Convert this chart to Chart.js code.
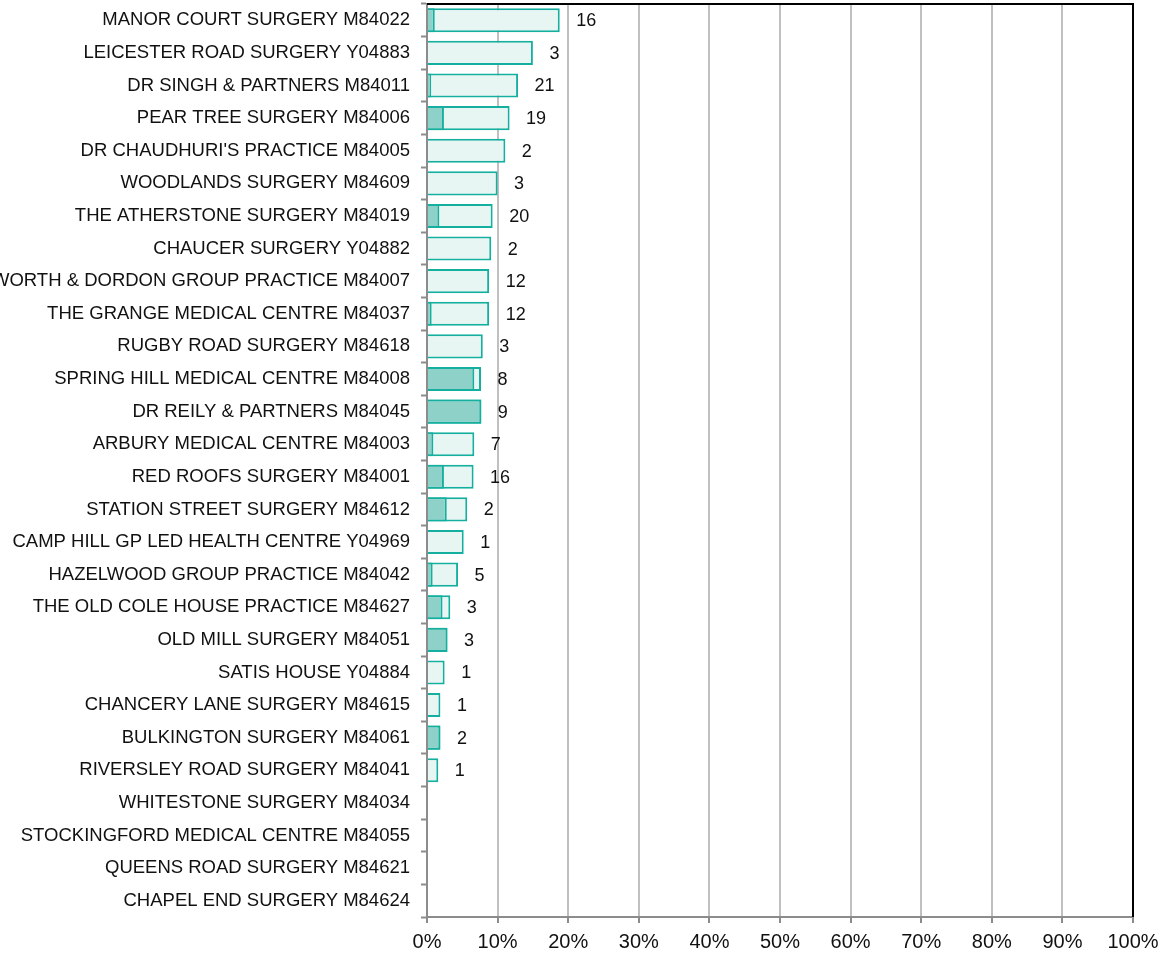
<!DOCTYPE html>
<html>
<head>
<meta charset="utf-8">
<script src="https://cdn.jsdelivr.net/npm/chart.js@4.4.1/dist/chart.umd.min.js"></script>
<style>
  html, body { margin: 0; padding: 0; background: #ffffff; }
  #wrap { width: 1159px; height: 954px; position: relative; }
</style>
</head>
<body>
<div id="wrap"><canvas id="c" width="1159" height="954"></canvas></div>
<script>
const categories = [
  "MANOR COURT SURGERY M84022",
  "LEICESTER ROAD SURGERY Y04883",
  "DR SINGH & PARTNERS M84011",
  "PEAR TREE SURGERY M84006",
  "DR CHAUDHURI'S PRACTICE M84005",
  "WOODLANDS SURGERY M84609",
  "THE ATHERSTONE SURGERY M84019",
  "CHAUCER SURGERY Y04882",
  "POLESWORTH & DORDON GROUP PRACTICE M84007",
  "THE GRANGE MEDICAL CENTRE M84037",
  "RUGBY ROAD SURGERY M84618",
  "SPRING HILL MEDICAL CENTRE M84008",
  "DR REILY & PARTNERS M84045",
  "ARBURY MEDICAL CENTRE M84003",
  "RED ROOFS SURGERY M84001",
  "STATION STREET SURGERY M84612",
  "CAMP HILL GP LED HEALTH CENTRE Y04969",
  "HAZELWOOD GROUP PRACTICE M84042",
  "THE OLD COLE HOUSE PRACTICE M84627",
  "OLD MILL SURGERY M84051",
  "SATIS HOUSE Y04884",
  "CHANCERY LANE SURGERY M84615",
  "BULKINGTON SURGERY M84061",
  "RIVERSLEY ROAD SURGERY M84041",
  "WHITESTONE SURGERY M84034",
  "STOCKINGFORD MEDICAL CENTRE M84055",
  "QUEENS ROAD SURGERY M84621",
  "CHAPEL END SURGERY M84624"
];
const totalPct = [18.8, 15.0, 12.9, 11.7, 11.1, 10.0, 9.3, 9.1, 8.8, 8.8, 7.9, 7.65, 7.7, 6.7, 6.6, 5.7, 5.2, 4.4, 3.3, 2.9, 2.5, 1.9, 1.9, 1.6, 0, 0, 0, 0];
const subPct   = [1.1, 0, 0.6, 2.4, 0, 0, 1.75, 0, 0, 0.66, 0, 6.7, 7.7, 0.9, 2.4, 2.8, 0, 0.8, 2.2, 2.9, 0, 0, 1.9, 0, 0, 0, 0, 0];
const counts   = [16, 3, 21, 19, 2, 3, 20, 2, 12, 12, 3, 8, 9, 7, 16, 2, 1, 5, 3, 3, 1, 1, 2, 1, null, null, null, null];
const xTickValues = [0, 10, 20, 30, 40, 50, 60, 70, 80, 90, 100];

const TEAL = '#14AF9E';
const FONT = '"Liberation Sans", Arial, sans-serif';

const countLabels = {
  id: 'countLabels',
  afterDatasetsDraw(chart) {
    const meta = chart.getDatasetMeta(1);
    const ctx = chart.ctx;
    ctx.save();
    ctx.font = '18px ' + FONT;
    ctx.fillStyle = '#111111';
    ctx.textAlign = 'left';
    ctx.textBaseline = 'middle';
    meta.data.forEach((bar, i) => {
      if (counts[i] === null || counts[i] === undefined) return;
      ctx.fillText(String(counts[i]), bar.x + 16.5, bar.y + 1);
    });
    ctx.restore();
  }
};

const frame = {
  id: 'frame',
  afterDraw(chart) {
    const a = chart.chartArea;
    const ctx = chart.ctx;
    ctx.save();
    ctx.strokeStyle = '#000000';
    ctx.lineWidth = 2;
    ctx.beginPath();
    ctx.moveTo(a.left, a.top);
    ctx.lineTo(a.right, a.top);
    ctx.lineTo(a.right, a.bottom);
    ctx.stroke();
    ctx.restore();
  }
};

new Chart(document.getElementById('c'), {
  type: 'bar',
  data: {
    labels: categories,
    datasets: [
      {
        label: 'Subset',
        data: subPct,
        backgroundColor: '#8DD1C8',
        borderColor: TEAL,
        borderWidth: 2,
        grouped: false,
        order: 0,
        barPercentage: 0.74,
        categoryPercentage: 1.0
      },
      {
        label: 'Total',
        data: totalPct,
        backgroundColor: '#E7F5F3',
        borderColor: TEAL,
        borderWidth: 2,
        grouped: false,
        order: 1,
        barPercentage: 0.74,
        categoryPercentage: 1.0
      }
    ]
  },
  options: {
    indexAxis: 'y',
    responsive: false,
    animation: false,
    devicePixelRatio: 1,
    layout: { padding: { top: 4, right: 26, bottom: 0, left: 0 } },
    plugins: {
      legend: { display: false },
      tooltip: { enabled: false },
      title: { display: false }
    },
    scales: {
      x: {
        type: 'linear',
        min: 0,
        max: 100,
        afterBuildTicks(scale) { scale.ticks = xTickValues.map(v => ({ value: v })); },
        afterFit(scale) { scale.height = 37; scale.paddingRight = 0; scale.paddingLeft = 0; },
        ticks: {
          callback: (v) => v + '%',
          font: { family: FONT, size: 20 },
          color: '#111111',
          padding: 7,
          maxRotation: 0
        },
        grid: {
          color: '#C0C0C0',
          lineWidth: 2,
          tickColor: '#8C8C8C',
          tickLength: 6,
          tickWidth: 2
        },
        border: { color: '#8C8C8C', width: 2 }
      },
      y: {
        offset: true,
        afterFit(scale) { scale.width = 427; scale.paddingTop = 0; scale.paddingBottom = 0; },
        ticks: {
          font: { family: FONT, size: 18.5 },
          color: '#111111',
          padding: 11,
          autoSkip: false
        },
        grid: {
          offset: true,
          drawOnChartArea: false,
          drawTicks: true,
          tickLength: 6,
          tickColor: '#8C8C8C',
          tickWidth: 2
        },
        border: { color: '#8C8C8C', width: 2 }
      }
    }
  },
  plugins: [countLabels, frame]
});
</script>
</body>
</html>
